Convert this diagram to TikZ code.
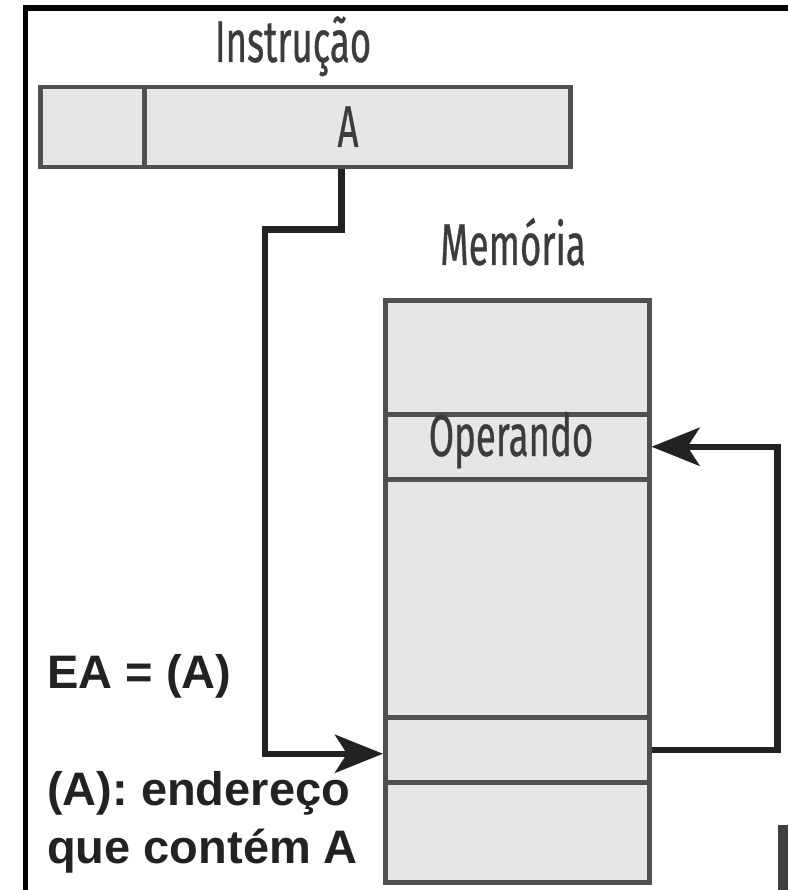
\documentclass[tikz,border=0pt]{standalone}
\usepackage{fontspec}
\setmainfont{Liberation Sans}
\newfontfamily\condfont[FakeStretch=0.62,FakeBold=0.5]{Fira Sans}
\usetikzlibrary{arrows.meta}
\definecolor{cellfill}{HTML}{E6E6E8}
\definecolor{celledge}{HTML}{505050}
\definecolor{ink}{HTML}{222222}
\definecolor{softink}{HTML}{3C3C3C}
\definecolor{edgebar}{HTML}{404040}
\tikzset{
  cell/.style={draw=celledge, fill=cellfill, line width=4.5pt, anchor=north west, inner sep=0pt},
  conn/.style={draw=ink, line width=6.5pt, line join=miter},
  tip/.style={-{Stealth[length=48pt,width=38pt,inset=12pt]}},
  cond/.style={font=\condfont\fontsize{59}{64}\selectfont, text=softink, inner sep=0pt, anchor=base},
  note/.style={font=\bfseries\fontsize{47}{58}\selectfont, text=ink, inner sep=0pt, anchor=base west, align=left},
}
\begin{document}
\begin{tikzpicture}[x=1pt,y=-1pt]
  \useasboundingbox (0,0) rectangle (788,890);
  \fill[white] (0,0) rectangle (788,890);
  % frame edges
  \fill[black] (23,5) rectangle (788,11);
  \fill[black] (23,5) rectangle (27.5,890);
  \fill[edgebar] (778,825) rectangle (788,890);

  % instruction word
  \node[cond] (ititle) at (293,62) {Instrução};
  \node[cell, minimum width=104pt, minimum height=80pt] (i1) at (38,85) {};
  \node[cell, minimum width=426pt, minimum height=80pt] (i2) at (142,85) {};
  \node[cond] (ia) at (348,147) {A};

  % memory
  \node[cond] (mtitle) at (513,265) {Memória};
  \node[cell, minimum width=264pt, minimum height=114pt] (m1) at (383,298) {};
  \node[cell, minimum width=264pt, minimum height=65pt]  (m2) at (383,412) {};
  \node[cell, minimum width=264pt, minimum height=238pt] (m3) at (383,477) {};
  \node[cell, minimum width=264pt, minimum height=65pt]  (m4) at (383,715) {};
  \node[cell, minimum width=264pt, minimum height=100pt] (m5) at (383,780) {};
  \node[cond] (oper) at (511,456) {Operando};

  % connectors
  \draw[conn, tip] ([xshift=-16pt]i2.south) -- ++(0,60) -| ([xshift=-118pt,yshift=-4pt]m4.west) -- ([yshift=-4pt]m4.west);
  \draw[conn, tip] (m4.east) -- ++(126,0) |- (m2.east);

  % notes
  \node[note] (ea) at (47,688) {EA = (A)};
  \node[note] (def1) at (47,805) {(A): endereço};
  \node[note] (def2) at (47,863) {que contém A};
\end{tikzpicture}
\end{document}
